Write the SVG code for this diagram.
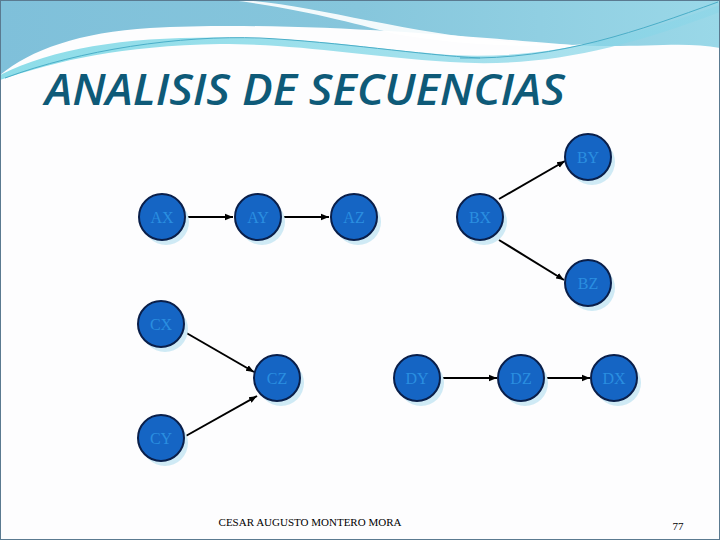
<svg xmlns="http://www.w3.org/2000/svg" width="720" height="540" viewBox="0 0 720 540">
<defs>
<linearGradient id="g1" x1="0" y1="0" x2="1" y2="0"><stop offset="0" stop-color="#7fc0da"/><stop offset="0.5" stop-color="#86c6dc"/><stop offset="1" stop-color="#9ad8e8"/></linearGradient>
<linearGradient id="g2" x1="0" y1="0" x2="1" y2="0"><stop offset="0" stop-color="#5ed0e0"/><stop offset="1" stop-color="#8ed6e8"/></linearGradient>
<marker id="ah" viewBox="0 0 10 10" refX="10" refY="5" markerWidth="8" markerHeight="8" markerUnits="userSpaceOnUse" orient="auto"><path d="M0,1 L10,5 L0,9 z" fill="#000"/></marker>
</defs>
<style>
.n circle.s{fill:#cfeaf5}
.n circle.c{fill:#1565c4;stroke:#0a1f4a;stroke-width:2}
.n text{font-family:"Liberation Serif",serif;font-size:16px;fill:#2a8ee0;text-anchor:middle;dominant-baseline:central}
#edges line{stroke:#000;stroke-width:2;marker-end:url(#ah)}
</style>
<rect width="720" height="540" fill="#fdfdfe"/>
<path d="M0,0 H720 V48 C680,40 630,50 560,44 C480,38 300,20 150,28 C80,32 30,50 0,75 Z" fill="url(#g1)"/>
<path d="M230,0 C300,8 360,25 400,35 C460,45 520,48 580,44 L600,44 C450,50 330,5 240,0 Z" fill="#ffffff" opacity="0.9"/>
<path d="M0,75 C60,45 140,35 250,38 C330,40 380,50 450,55 C540,60 620,40 720,5 L720,12 C620,50 540,68 450,62 C360,56 300,44 220,44 C120,46 60,60 0,80 Z" fill="url(#g2)" opacity="0.7"/>
<path d="M5,78 C80,50 180,35 260,38 C340,42 420,55 480,58" stroke="#4aaec8" stroke-width="1" fill="none"/>
<path d="M460,58 C560,60 640,30 718,2" stroke="#4aaec8" stroke-width="1" fill="none"/>
<rect x="0.5" y="0.5" width="719" height="539" fill="none" stroke="#5a7a90" stroke-width="1"/>
<text x="45" y="105" font-family="'Open Sans','Liberation Sans',sans-serif" font-style="italic" font-weight="600" font-size="43" fill="#0e5a78" textLength="520" lengthAdjust="spacingAndGlyphs">ANALISIS DE SECUENCIAS</text>
<g id="edges">
<line x1="185" y1="217" x2="233" y2="217"/>
<line x1="281" y1="217" x2="329" y2="217"/>
<line x1="499" y1="199" x2="565" y2="161"/>
<line x1="499" y1="240" x2="564" y2="280"/>
<line x1="183" y1="331" x2="254" y2="372"/>
<line x1="184" y1="437" x2="257" y2="396"/>
<line x1="440" y1="378" x2="497" y2="378"/>
<line x1="544" y1="378" x2="590" y2="378"/>
</g>
<g id="AX" class="n"><circle class="s" cx="166" cy="222" r="23"/><circle class="c" cx="162" cy="217" r="23"/><text x="162" y="217">AX</text></g>
<g id="AY" class="n"><circle class="s" cx="262" cy="222" r="23"/><circle class="c" cx="258" cy="217" r="23"/><text x="258" y="217">AY</text></g>
<g id="AZ" class="n"><circle class="s" cx="358" cy="222" r="23"/><circle class="c" cx="354" cy="217" r="23"/><text x="354" y="217">AZ</text></g>
<g id="BX" class="n"><circle class="s" cx="484" cy="222" r="23"/><circle class="c" cx="480" cy="217" r="23"/><text x="480" y="217">BX</text></g>
<g id="BY" class="n"><circle class="s" cx="592" cy="162" r="23"/><circle class="c" cx="588" cy="157" r="23"/><text x="588" y="157">BY</text></g>
<g id="BZ" class="n"><circle class="s" cx="592" cy="288" r="23"/><circle class="c" cx="588" cy="283" r="23"/><text x="588" y="283">BZ</text></g>
<g id="CX" class="n"><circle class="s" cx="165" cy="329" r="23"/><circle class="c" cx="161" cy="324" r="23"/><text x="161" y="324">CX</text></g>
<g id="CY" class="n"><circle class="s" cx="165" cy="443" r="23"/><circle class="c" cx="161" cy="438" r="23"/><text x="161" y="438">CY</text></g>
<g id="CZ" class="n"><circle class="s" cx="281" cy="383" r="23"/><circle class="c" cx="277" cy="378" r="23"/><text x="277" y="378">CZ</text></g>
<g id="DY" class="n"><circle class="s" cx="421" cy="383" r="23"/><circle class="c" cx="417" cy="378" r="23"/><text x="417" y="378">DY</text></g>
<g id="DZ" class="n"><circle class="s" cx="525" cy="383" r="23"/><circle class="c" cx="521" cy="378" r="23"/><text x="521" y="378">DZ</text></g>
<g id="DX" class="n"><circle class="s" cx="618" cy="383" r="23"/><circle class="c" cx="614" cy="378" r="23"/><text x="614" y="378">DX</text></g>
<text x="310" y="526" font-family="'Liberation Serif',serif" font-size="11" fill="#000" text-anchor="middle">CESAR AUGUSTO MONTERO MORA</text>
<text x="678" y="530" font-family="'Liberation Serif',serif" font-size="11" fill="#000" text-anchor="middle">77</text>
</svg>
